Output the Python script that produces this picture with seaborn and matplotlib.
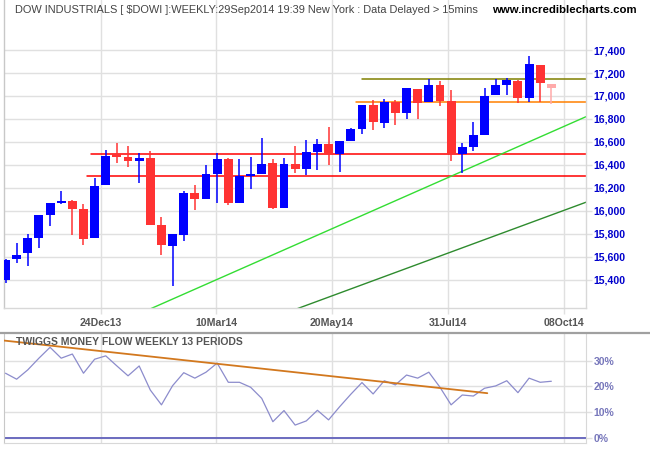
import numpy as np
import pandas as pd
import matplotlib
matplotlib.use("Agg")
import matplotlib.pyplot as plt
from matplotlib.lines import Line2D
import seaborn as sns

# ---------------- data ----------------
opens = [15400, 15583, 15635, 15765, 15965, 16070, 16087, 16017, 15765, 16226,
         16496, 16470, 16435, 16461, 15878, 15696, 15791, 16157, 16104, 16322,
         16452, 16070, 16304, 16322, 16417, 16026, 16409, 16365, 16513, 16583,
         16496, 16609, 16713, 16922, 16765, 16948, 16852, 17061, 16948, 17096,
         16957, 16496, 16557, 16661, 17009, 17096, 17130, 16983, 17270, 17104]
highs = [15580, 15722, 15800, 15965, 16070, 16174, 16096, 16061, 16287, 16530,
         16591, 16565, 16504, 16522, 15948, 15800, 16174, 16226, 16400, 16504,
         16461, 16452, 16470, 16635, 16452, 16461, 16565, 16617, 16626, 16730,
         16609, 16722, 16922, 16965, 16974, 16965, 17070, 17061, 17148, 17130,
         17052, 16591, 16774, 17070, 17148, 17157, 17139, 17348, 17270, 17104]
lows = [15374, 15548, 15522, 15678, 15870, 16061, 15791, 15704, 15765, 16226,
        16417, 16383, 16243, 15878, 15617, 15348, 15739, 16009, 16104, 16070,
        16052, 16070, 16191, 16322, 16017, 16026, 16330, 16313, 16357, 16400,
        16339, 16609, 16670, 16704, 16722, 16748, 16800, 16800, 16948, 16913,
        16435, 16330, 16522, 16661, 17009, 17009, 16939, 16948, 16948, 16930]
closes = [15574, 15617, 15765, 15965, 16070, 16087, 16017, 15757, 16217, 16478,
          16470, 16435, 16461, 15878, 15704, 15800, 16157, 16104, 16322, 16452,
          16070, 16304, 16322, 16409, 16026, 16409, 16365, 16513, 16583, 16496,
          16609, 16713, 16922, 16774, 16948, 16852, 17070, 16939, 17096, 16957,
          16496, 16557, 16661, 17000, 17096, 17139, 16983, 17278, 17113, 17070]
tmf = [25.1, 22.8, 26.4, 30.9, 35.1, 30.9, 32.5, 25.1, 30.5, 31.8,
       27.9, 24.1, 27.9, 18.6, 12.9, 20.3, 25.3, 23.2, 25.5, 29.0,
       21.6, 21.6, 19.7, 15.4, 6.4, 10.7, 5.1, 6.7, 10.8, 7.1,
       12.2, 17.0, 21.5, 17.1, 22.2, 20.6, 24.4, 23.2, 25.5, 19.7,
       12.9, 16.7, 16.3, 19.3, 20.2, 22.2, 17.6, 23.2, 21.6, 22.0]

date_ticks = [8.57, 18.90, 29.31, 39.72, 50.13]
date_labels = ["24Dec13", "10Mar14", "20May14", "31Jul14", "08Oct14"]
price_ticks = list(range(15400, 17401, 200))
tmf_ticks = [0, 10, 20, 30]
tmf_labels = ["0%", "10%", "20%", "30%"]

# horizontal support / resistance levels: value and first bar
level_values = [16493, 16304, 16948, 17145]
level_starts = [7.67, 7.32, 31.46, 32.0]
level_colors = ['#FF0000', '#FF0000', '#FF8000', '#808000']

# trend lines: (x0, y0, x1, y1)
trend_light = [17.46, 15339, 52.11, 16820]
trend_dark = [30.75, 15313, 52.11, 16076]
tmf_trend = [-0.135, 37.7, 43.25, 17.4]

title = "DOW INDUSTRIALS [ $DOWI ]:WEEKLY:29Sep2014 19:39 New York : Data Delayed > 15mins"
site = "www.incrediblecharts.com"
panel_title = "TWIGGS MONEY FLOW WEEKLY 13 PERIODS"

# ---------------- style ----------------
sns.set_style("white")
plt.rcParams['font.family'] = ['Liberation Sans', 'DejaVu Sans']

W, H = 650, 450
def fx(px):
    return px / W
def fy(py):
    return 1 - py / H

fig = plt.figure(figsize=(6.5, 4.5), dpi=100)
ax = fig.add_axes([fx(4), fy(308), fx(586) - fx(4), fy(0) - fy(308)])
ax2 = fig.add_axes([fx(4), fy(442.7), fx(586) - fx(4), fy(333.3) - fy(442.7)])

grid_c = '#E0E0E0'
xlim = (-0.135, 52.11)

df = pd.DataFrame({"o": opens, "h": highs, "l": lows, "c": closes, "tmf": tmf})
df["x"] = np.arange(len(df))
colors = np.where(df["c"] >= df["o"], '#0000FF', '#FF3333').astype(object)
colors[-1] = '#FFAAAA'

# ---------------- main panel ----------------
ax.set_xlim(*xlim)
ax.set_ylim(15156, 17835)
ax.set_axisbelow(True)
ax.grid(True, color=grid_c, lw=1.0)

for v, s, col in zip(level_values, level_starts, level_colors):
    ax.plot([s, xlim[1]], [v, v], color=col, lw=1.1, zorder=2)

for (x0, y0, x1, y1), col in [(trend_light, '#33DD33'), (trend_dark, '#2E8B2E')]:
    slope = (y1 - y0) / (x1 - x0)
    xs = np.array([x0 - 20, x1])
    ax.plot(xs, y0 + slope * (xs - x0), color=col, lw=1.0, zorder=2)

ax.vlines(df["x"], df["l"], df["h"], colors=list(colors), lw=1.1, zorder=3)
body = np.maximum((df["c"] - df["o"]).abs(), 14)
bottom = np.minimum(df["c"], df["o"])
ax.bar(df["x"], body, bottom=bottom, width=0.8, color=list(colors), lw=0, zorder=4)

ax.yaxis.tick_right()
ax.set_yticks(price_ticks)
ax.set_yticklabels([f"{v:,}" for v in price_ticks], fontweight='bold')
ax.set_xticks(date_ticks)
ax.set_xticklabels(date_labels, fontweight='bold')
ax.tick_params(axis='y', length=4, width=1, color=grid_c, pad=1.5,
               labelcolor='#0000CC', labelsize=7.6, right=True, left=False)
ax.tick_params(axis='x', length=4, width=1, color=grid_c, pad=3,
               labelcolor='#555555', labelsize=7.6, bottom=True)
ax.spines['top'].set_visible(False)
ax.spines['left'].set_color('#C8C8C8')
ax.spines['right'].set_color('#D8D8D8')
ax.spines['bottom'].set_color('#D8D8D8')
for sp in ax.spines.values():
    sp.set_linewidth(1.0)

# ---------------- lower panel ----------------
ax2.set_xlim(*xlim)
ax2.set_ylim(-1.7, 40.5)
ax2.set_axisbelow(True)
ax2.grid(True, color=grid_c, lw=1.0)
ax2.axhline(0, color='#6B6BBF', lw=1.4, zorder=2)
sns.lineplot(data=df, x="x", y="tmf", ax=ax2, color='#8C8CCC', lw=0.9, zorder=3)
ax2.plot([tmf_trend[0], tmf_trend[2]], [tmf_trend[1], tmf_trend[3]],
         color='#D2781E', lw=1.3, zorder=4)
ax2.set_xlabel("")
ax2.set_ylabel("")
ax2.yaxis.tick_right()
ax2.set_yticks(tmf_ticks)
ax2.set_yticklabels(tmf_labels, fontweight='bold')
ax2.set_xticks(date_ticks)
ax2.set_xticklabels([])
ax2.tick_params(axis='y', length=4, width=1, color=grid_c, pad=1.5,
                labelcolor='#7777BB', labelsize=7.5, right=True, left=False)
ax2.tick_params(axis='x', length=0)
ax2.spines['top'].set_visible(False)
ax2.spines['left'].set_color('#C8C8C8')
ax2.spines['right'].set_color('#D8D8D8')
ax2.spines['bottom'].set_color('#D8D8D8')

fig.add_artist(Line2D([0, 1], [fy(333), fy(333)], transform=fig.transFigure,
                      color='#A0A0A0', lw=1.6))

# ---------------- texts ----------------
fig.text(fx(15), fy(10), title, fontsize=7.95, color='#444444', va='center', ha='left')
fig.text(fx(637), fy(10), site, fontsize=8.2, color='black', fontweight='bold',
         va='center', ha='right')
fig.text(fx(16), fy(341.7), panel_title, fontsize=7.5, color='#555555',
         fontweight='bold', va='center', ha='left')

fig.savefig("out.png", dpi=100, facecolor='white')
